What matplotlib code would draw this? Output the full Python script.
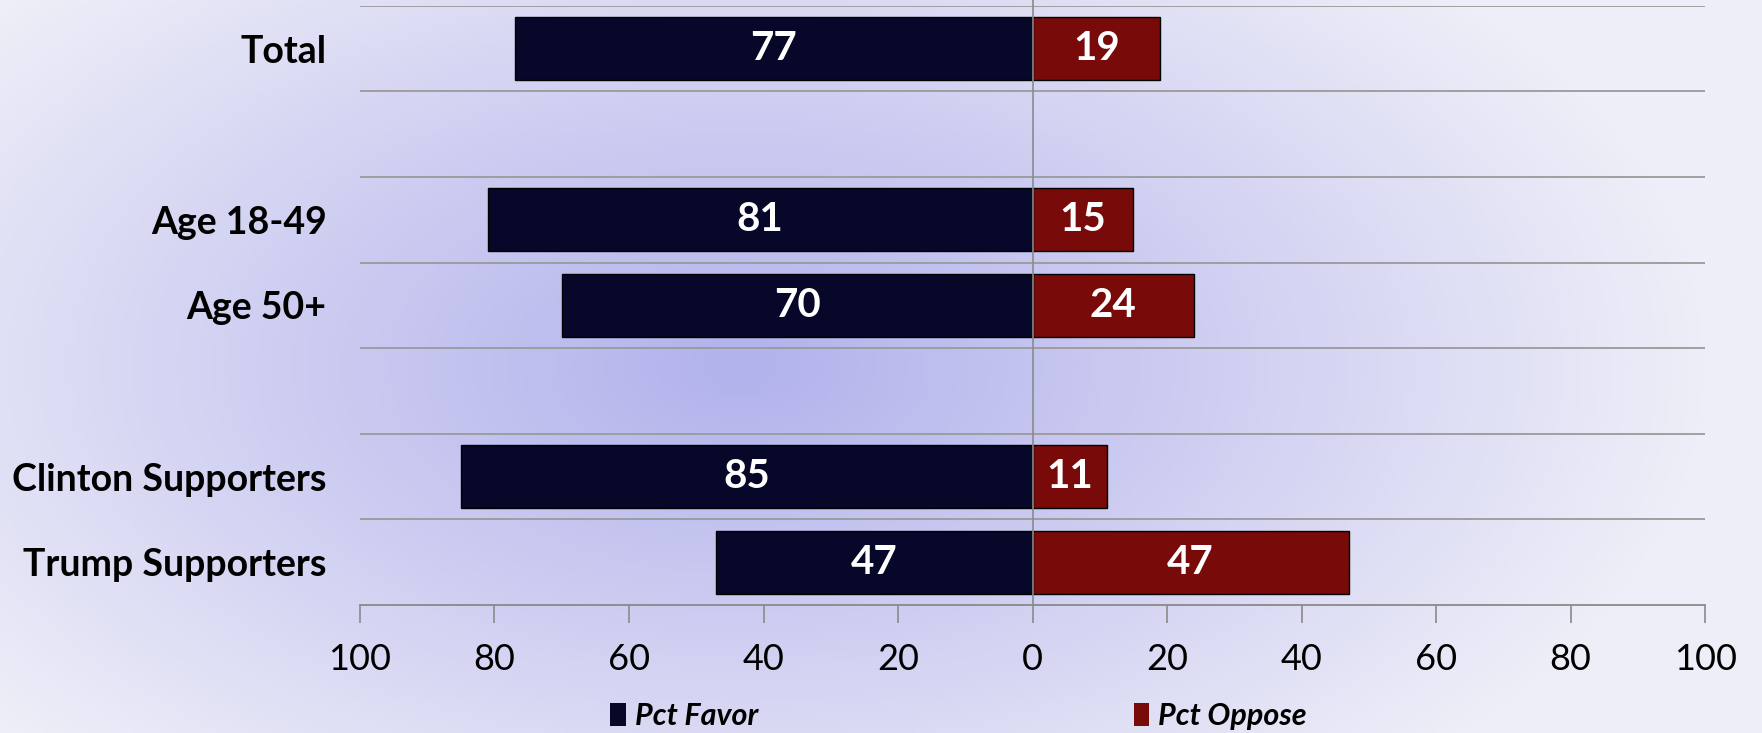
import numpy as np
import matplotlib
matplotlib.use("Agg")
import matplotlib.pyplot as plt
from matplotlib.colors import LinearSegmentedColormap
from matplotlib.patches import Patch

# data (blank strings are the spacer rows of the original chart)
categories = ["Total", "", "Age 18-49", "Age 50+", "", "Clinton Supporters", "Trump Supporters"]
pct_favor = [77, np.nan, 81, 70, np.nan, 85, 47]
pct_oppose = [19, np.nan, 15, 24, np.nan, 11, 47]
tick_values = [-100, -80, -60, -40, -20, 0, 20, 40, 60, 80, 100]

favor_color = "#07072a"
oppose_color = "#780a0a"

plt.rcParams['font.family'] = ['Lato', 'DejaVu Sans']

fig = plt.figure(figsize=(17.62, 7.33), dpi=100)

# soft radial lavender background
bg = fig.add_axes([0, 0, 1, 1], zorder=-1)
xx, yy = np.meshgrid(np.linspace(0, 1, 400), np.linspace(0, 1, 200))
r = np.sqrt(((xx - 0.42) / 0.55) ** 2 + ((yy - 0.50) / 0.75) ** 2)
grad = np.clip(r, 0, 1)
cmap = LinearSegmentedColormap.from_list("bg", ["#b2b2ec", "#cfcff2", "#eeeef8"])
bg.imshow(grad, cmap=cmap, aspect="auto", extent=[0, 1, 0, 1], vmin=0, vmax=1)
bg.axis("off")

ax = fig.add_axes([0.2043, 0.1746, 0.7634, 0.8176])
ax.set_facecolor("none")

y = np.arange(len(categories))
fav = np.array(pct_favor, dtype=float)
opp = np.array(pct_oppose, dtype=float)

ax.barh(y, -fav, height=0.74, color=favor_color, edgecolor="#000000", linewidth=1, zorder=3)
ax.barh(y, opp, height=0.74, color=oppose_color, edgecolor="#000000", linewidth=1, zorder=3)

for yi, f, o in zip(y, fav, opp):
    if np.isnan(f):
        continue
    ax.text(-f / 2, yi, f"{f:.0f}", ha="center", va="center", color="white",
            fontsize=29, fontweight="bold", zorder=4)
    ax.text(o / 2, yi, f"{o:.0f}", ha="center", va="center", color="white",
            fontsize=29, fontweight="bold", zorder=4)

ax.set_xlim(-100, 100)
ax.set_ylim(len(categories) - 0.5, -0.5)

# row separators
for b in np.arange(-0.5, len(categories) - 0.5, 1.0):
    ax.axhline(b, color="#9a9a9a", linewidth=1.3, zorder=1)
ax.axvline(0, color="#8a8a8a", linewidth=1.2, zorder=5, ymax=1.02, clip_on=False)

ax.set_yticks(y)
ax.set_yticklabels(categories, fontsize=27, fontweight="bold")
ax.tick_params(axis="y", length=0, pad=24)

ax.set_xticks(tick_values)
ax.set_xticklabels([str(abs(v)) for v in tick_values], fontsize=26)
ax.tick_params(axis="x", length=13, width=1.2, color="#8a8a8a", direction="out", pad=14)

for s in ["top", "left", "right"]:
    ax.spines[s].set_visible(False)
ax.spines["bottom"].set_color("#8a8a8a")
ax.spines["bottom"].set_linewidth(1.3)

handles = [Patch(facecolor=favor_color, edgecolor="none", label="Pct Favor"),
           Patch(facecolor=oppose_color, edgecolor="none", label="Pct Oppose")]
fig.legend(handles=handles, loc="center", bbox_to_anchor=(0.544, 0.023), ncol=2,
           frameon=False, prop={"size": 22, "weight": "bold", "style": "italic"},
           handlelength=0.5, handleheight=0.8, handletextpad=0.3, columnspacing=12.3)

fig.savefig("out.png", dpi=100)
